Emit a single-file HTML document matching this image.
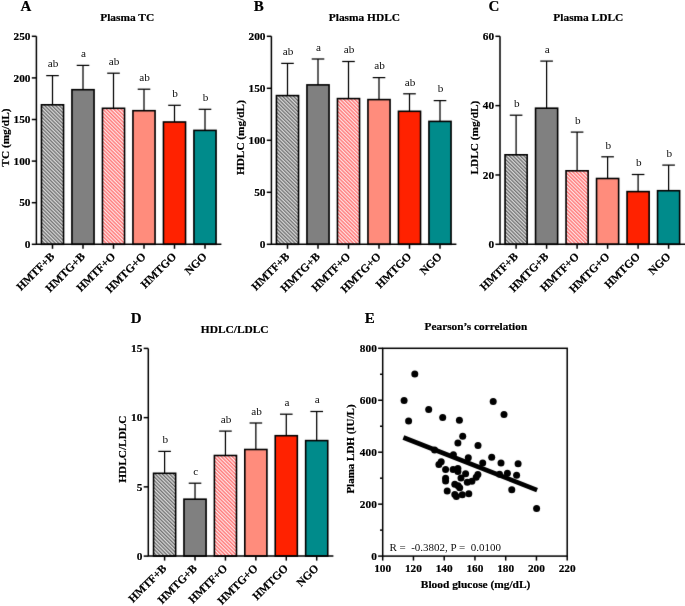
<!DOCTYPE html><html><head><meta charset="utf-8"><style>html,body{margin:0;padding:0;background:#fff;width:685px;height:606px;overflow:hidden}svg{display:block;will-change:transform}text{font-family:"Liberation Serif",serif}</style></head><body>
<svg width="685" height="606" viewBox="0 0 685 606">
<defs>
<filter id="bl" color-interpolation-filters="sRGB" x="0" y="0" width="685" height="606" filterUnits="userSpaceOnUse"><feConvolveMatrix order="3" kernelMatrix="0.0064 0.0672 0.0064 0.0672 0.7056 0.0672 0.0064 0.0672 0.0064" edgeMode="duplicate"/></filter>
<pattern id="hg" patternUnits="userSpaceOnUse" width="2.57" height="4" patternTransform="rotate(-45)">
<rect width="2.57" height="4" fill="#ececec"/><rect width="1.28" height="4" fill="#5c5c5c"/></pattern>
<pattern id="hr" patternUnits="userSpaceOnUse" width="2.57" height="4" patternTransform="rotate(-45)">
<rect width="2.57" height="4" fill="#fff"/><rect width="1.4" height="4" fill="#ff6464"/></pattern>
</defs><g filter="url(#bl)"><rect width="685" height="606" fill="#fff"/>
<line x1="52.50" y1="104.80" x2="52.50" y2="75.60" stroke="#000" stroke-width="1.25"/>
<line x1="46.20" y1="75.60" x2="58.80" y2="75.60" stroke="#000" stroke-width="1.25"/>
<rect x="41.45" y="104.80" width="22.10" height="139.50" fill="url(#hg)" stroke="#000" stroke-width="1.6"/>
<line x1="52.50" y1="244.30" x2="52.50" y2="248.80" stroke="#000" stroke-width="1.5"/>
<line x1="83.00" y1="89.70" x2="83.00" y2="65.40" stroke="#000" stroke-width="1.25"/>
<line x1="76.70" y1="65.40" x2="89.30" y2="65.40" stroke="#000" stroke-width="1.25"/>
<rect x="71.95" y="89.70" width="22.10" height="154.60" fill="#808080" stroke="#000" stroke-width="1.6"/>
<line x1="83.00" y1="244.30" x2="83.00" y2="248.80" stroke="#000" stroke-width="1.5"/>
<line x1="113.50" y1="108.30" x2="113.50" y2="73.20" stroke="#000" stroke-width="1.25"/>
<line x1="107.20" y1="73.20" x2="119.80" y2="73.20" stroke="#000" stroke-width="1.25"/>
<rect x="102.45" y="108.30" width="22.10" height="136.00" fill="url(#hr)" stroke="#000" stroke-width="1.6"/>
<line x1="113.50" y1="244.30" x2="113.50" y2="248.80" stroke="#000" stroke-width="1.5"/>
<line x1="144.00" y1="110.70" x2="144.00" y2="89.20" stroke="#000" stroke-width="1.25"/>
<line x1="137.70" y1="89.20" x2="150.30" y2="89.20" stroke="#000" stroke-width="1.25"/>
<rect x="132.95" y="110.70" width="22.10" height="133.60" fill="#FF8C7C" stroke="#000" stroke-width="1.6"/>
<line x1="144.00" y1="244.30" x2="144.00" y2="248.80" stroke="#000" stroke-width="1.5"/>
<line x1="174.50" y1="122.00" x2="174.50" y2="105.30" stroke="#000" stroke-width="1.25"/>
<line x1="168.20" y1="105.30" x2="180.80" y2="105.30" stroke="#000" stroke-width="1.25"/>
<rect x="163.45" y="122.00" width="22.10" height="122.30" fill="#FF2200" stroke="#000" stroke-width="1.6"/>
<line x1="174.50" y1="244.30" x2="174.50" y2="248.80" stroke="#000" stroke-width="1.5"/>
<line x1="205.00" y1="130.40" x2="205.00" y2="109.30" stroke="#000" stroke-width="1.25"/>
<line x1="198.70" y1="109.30" x2="211.30" y2="109.30" stroke="#000" stroke-width="1.25"/>
<rect x="193.95" y="130.40" width="22.10" height="113.90" fill="#008B8B" stroke="#000" stroke-width="1.6"/>
<line x1="205.00" y1="244.30" x2="205.00" y2="248.80" stroke="#000" stroke-width="1.5"/>
<path d="M36.40,36.30 V244.30 H221.40" fill="none" stroke="#000" stroke-width="1.5"/>
<line x1="31.80" y1="36.30" x2="36.40" y2="36.30" stroke="#000" stroke-width="1.5"/>
<line x1="31.80" y1="77.90" x2="36.40" y2="77.90" stroke="#000" stroke-width="1.5"/>
<line x1="31.80" y1="119.50" x2="36.40" y2="119.50" stroke="#000" stroke-width="1.5"/>
<line x1="31.80" y1="161.10" x2="36.40" y2="161.10" stroke="#000" stroke-width="1.5"/>
<line x1="31.80" y1="202.70" x2="36.40" y2="202.70" stroke="#000" stroke-width="1.5"/>
<line x1="31.80" y1="244.30" x2="36.40" y2="244.30" stroke="#000" stroke-width="1.5"/>
<line x1="287.50" y1="95.60" x2="287.50" y2="63.40" stroke="#000" stroke-width="1.25"/>
<line x1="281.20" y1="63.40" x2="293.80" y2="63.40" stroke="#000" stroke-width="1.25"/>
<rect x="276.45" y="95.60" width="22.10" height="148.70" fill="url(#hg)" stroke="#000" stroke-width="1.6"/>
<line x1="287.50" y1="244.30" x2="287.50" y2="248.80" stroke="#000" stroke-width="1.5"/>
<line x1="318.00" y1="84.90" x2="318.00" y2="59.00" stroke="#000" stroke-width="1.25"/>
<line x1="311.70" y1="59.00" x2="324.30" y2="59.00" stroke="#000" stroke-width="1.25"/>
<rect x="306.95" y="84.90" width="22.10" height="159.40" fill="#808080" stroke="#000" stroke-width="1.6"/>
<line x1="318.00" y1="244.30" x2="318.00" y2="248.80" stroke="#000" stroke-width="1.5"/>
<line x1="348.50" y1="98.60" x2="348.50" y2="61.50" stroke="#000" stroke-width="1.25"/>
<line x1="342.20" y1="61.50" x2="354.80" y2="61.50" stroke="#000" stroke-width="1.25"/>
<rect x="337.45" y="98.60" width="22.10" height="145.70" fill="url(#hr)" stroke="#000" stroke-width="1.6"/>
<line x1="348.50" y1="244.30" x2="348.50" y2="248.80" stroke="#000" stroke-width="1.5"/>
<line x1="379.00" y1="99.60" x2="379.00" y2="77.60" stroke="#000" stroke-width="1.25"/>
<line x1="372.70" y1="77.60" x2="385.30" y2="77.60" stroke="#000" stroke-width="1.25"/>
<rect x="367.95" y="99.60" width="22.10" height="144.70" fill="#FF8C7C" stroke="#000" stroke-width="1.6"/>
<line x1="379.00" y1="244.30" x2="379.00" y2="248.80" stroke="#000" stroke-width="1.5"/>
<line x1="409.50" y1="111.30" x2="409.50" y2="93.80" stroke="#000" stroke-width="1.25"/>
<line x1="403.20" y1="93.80" x2="415.80" y2="93.80" stroke="#000" stroke-width="1.25"/>
<rect x="398.45" y="111.30" width="22.10" height="133.00" fill="#FF2200" stroke="#000" stroke-width="1.6"/>
<line x1="409.50" y1="244.30" x2="409.50" y2="248.80" stroke="#000" stroke-width="1.5"/>
<line x1="440.00" y1="121.40" x2="440.00" y2="100.60" stroke="#000" stroke-width="1.25"/>
<line x1="433.70" y1="100.60" x2="446.30" y2="100.60" stroke="#000" stroke-width="1.25"/>
<rect x="428.95" y="121.40" width="22.10" height="122.90" fill="#008B8B" stroke="#000" stroke-width="1.6"/>
<line x1="440.00" y1="244.30" x2="440.00" y2="248.80" stroke="#000" stroke-width="1.5"/>
<path d="M271.40,36.30 V244.30 H456.40" fill="none" stroke="#000" stroke-width="1.5"/>
<line x1="266.80" y1="36.30" x2="271.40" y2="36.30" stroke="#000" stroke-width="1.5"/>
<line x1="266.80" y1="88.30" x2="271.40" y2="88.30" stroke="#000" stroke-width="1.5"/>
<line x1="266.80" y1="140.30" x2="271.40" y2="140.30" stroke="#000" stroke-width="1.5"/>
<line x1="266.80" y1="192.30" x2="271.40" y2="192.30" stroke="#000" stroke-width="1.5"/>
<line x1="266.80" y1="244.30" x2="271.40" y2="244.30" stroke="#000" stroke-width="1.5"/>
<line x1="516.10" y1="154.80" x2="516.10" y2="115.20" stroke="#000" stroke-width="1.25"/>
<line x1="509.80" y1="115.20" x2="522.40" y2="115.20" stroke="#000" stroke-width="1.25"/>
<rect x="505.05" y="154.80" width="22.10" height="89.50" fill="url(#hg)" stroke="#000" stroke-width="1.6"/>
<line x1="516.10" y1="244.30" x2="516.10" y2="248.80" stroke="#000" stroke-width="1.5"/>
<line x1="546.60" y1="108.20" x2="546.60" y2="61.10" stroke="#000" stroke-width="1.25"/>
<line x1="540.30" y1="61.10" x2="552.90" y2="61.10" stroke="#000" stroke-width="1.25"/>
<rect x="535.55" y="108.20" width="22.10" height="136.10" fill="#808080" stroke="#000" stroke-width="1.6"/>
<line x1="546.60" y1="244.30" x2="546.60" y2="248.80" stroke="#000" stroke-width="1.5"/>
<line x1="577.10" y1="170.80" x2="577.10" y2="132.10" stroke="#000" stroke-width="1.25"/>
<line x1="570.80" y1="132.10" x2="583.40" y2="132.10" stroke="#000" stroke-width="1.25"/>
<rect x="566.05" y="170.80" width="22.10" height="73.50" fill="url(#hr)" stroke="#000" stroke-width="1.6"/>
<line x1="577.10" y1="244.30" x2="577.10" y2="248.80" stroke="#000" stroke-width="1.5"/>
<line x1="607.60" y1="178.50" x2="607.60" y2="156.80" stroke="#000" stroke-width="1.25"/>
<line x1="601.30" y1="156.80" x2="613.90" y2="156.80" stroke="#000" stroke-width="1.25"/>
<rect x="596.55" y="178.50" width="22.10" height="65.80" fill="#FF8C7C" stroke="#000" stroke-width="1.6"/>
<line x1="607.60" y1="244.30" x2="607.60" y2="248.80" stroke="#000" stroke-width="1.5"/>
<line x1="638.10" y1="191.60" x2="638.10" y2="174.50" stroke="#000" stroke-width="1.25"/>
<line x1="631.80" y1="174.50" x2="644.40" y2="174.50" stroke="#000" stroke-width="1.25"/>
<rect x="627.05" y="191.60" width="22.10" height="52.70" fill="#FF2200" stroke="#000" stroke-width="1.6"/>
<line x1="638.10" y1="244.30" x2="638.10" y2="248.80" stroke="#000" stroke-width="1.5"/>
<line x1="668.60" y1="190.70" x2="668.60" y2="165.10" stroke="#000" stroke-width="1.25"/>
<line x1="662.30" y1="165.10" x2="674.90" y2="165.10" stroke="#000" stroke-width="1.25"/>
<rect x="657.55" y="190.70" width="22.10" height="53.60" fill="#008B8B" stroke="#000" stroke-width="1.6"/>
<line x1="668.60" y1="244.30" x2="668.60" y2="248.80" stroke="#000" stroke-width="1.5"/>
<path d="M500.00,36.30 V244.30 H685.00" fill="none" stroke="#000" stroke-width="1.5"/>
<line x1="495.40" y1="36.30" x2="500.00" y2="36.30" stroke="#000" stroke-width="1.5"/>
<line x1="495.40" y1="105.63" x2="500.00" y2="105.63" stroke="#000" stroke-width="1.5"/>
<line x1="495.40" y1="174.97" x2="500.00" y2="174.97" stroke="#000" stroke-width="1.5"/>
<line x1="495.40" y1="244.30" x2="500.00" y2="244.30" stroke="#000" stroke-width="1.5"/>
<line x1="164.60" y1="473.30" x2="164.60" y2="451.40" stroke="#000" stroke-width="1.25"/>
<line x1="158.30" y1="451.40" x2="170.90" y2="451.40" stroke="#000" stroke-width="1.25"/>
<rect x="153.55" y="473.30" width="22.10" height="82.80" fill="url(#hg)" stroke="#000" stroke-width="1.6"/>
<line x1="164.60" y1="556.10" x2="164.60" y2="560.60" stroke="#000" stroke-width="1.5"/>
<line x1="195.02" y1="499.20" x2="195.02" y2="483.20" stroke="#000" stroke-width="1.25"/>
<line x1="188.72" y1="483.20" x2="201.32" y2="483.20" stroke="#000" stroke-width="1.25"/>
<rect x="183.97" y="499.20" width="22.10" height="56.90" fill="#808080" stroke="#000" stroke-width="1.6"/>
<line x1="195.02" y1="556.10" x2="195.02" y2="560.60" stroke="#000" stroke-width="1.5"/>
<line x1="225.44" y1="455.50" x2="225.44" y2="431.10" stroke="#000" stroke-width="1.25"/>
<line x1="219.14" y1="431.10" x2="231.74" y2="431.10" stroke="#000" stroke-width="1.25"/>
<rect x="214.39" y="455.50" width="22.10" height="100.60" fill="url(#hr)" stroke="#000" stroke-width="1.6"/>
<line x1="225.44" y1="556.10" x2="225.44" y2="560.60" stroke="#000" stroke-width="1.5"/>
<line x1="255.86" y1="449.50" x2="255.86" y2="423.00" stroke="#000" stroke-width="1.25"/>
<line x1="249.56" y1="423.00" x2="262.16" y2="423.00" stroke="#000" stroke-width="1.25"/>
<rect x="244.81" y="449.50" width="22.10" height="106.60" fill="#FF8C7C" stroke="#000" stroke-width="1.6"/>
<line x1="255.86" y1="556.10" x2="255.86" y2="560.60" stroke="#000" stroke-width="1.5"/>
<line x1="286.28" y1="435.70" x2="286.28" y2="414.20" stroke="#000" stroke-width="1.25"/>
<line x1="279.98" y1="414.20" x2="292.58" y2="414.20" stroke="#000" stroke-width="1.25"/>
<rect x="275.23" y="435.70" width="22.10" height="120.40" fill="#FF2200" stroke="#000" stroke-width="1.6"/>
<line x1="286.28" y1="556.10" x2="286.28" y2="560.60" stroke="#000" stroke-width="1.5"/>
<line x1="316.70" y1="440.60" x2="316.70" y2="411.50" stroke="#000" stroke-width="1.25"/>
<line x1="310.40" y1="411.50" x2="323.00" y2="411.50" stroke="#000" stroke-width="1.25"/>
<rect x="305.65" y="440.60" width="22.10" height="115.50" fill="#008B8B" stroke="#000" stroke-width="1.6"/>
<line x1="316.70" y1="556.10" x2="316.70" y2="560.60" stroke="#000" stroke-width="1.5"/>
<path d="M148.30,348.40 V556.10 H333.40" fill="none" stroke="#000" stroke-width="1.5"/>
<line x1="143.70" y1="348.40" x2="148.30" y2="348.40" stroke="#000" stroke-width="1.5"/>
<line x1="143.70" y1="417.63" x2="148.30" y2="417.63" stroke="#000" stroke-width="1.5"/>
<line x1="143.70" y1="486.87" x2="148.30" y2="486.87" stroke="#000" stroke-width="1.5"/>
<line x1="143.70" y1="556.10" x2="148.30" y2="556.10" stroke="#000" stroke-width="1.5"/>
<path d="M403.4,437.5 L537.1,490.1" stroke="#000" stroke-width="4.7" fill="none"/>
<circle cx="414.8" cy="374.0" r="3.5" fill="#000"/>
<circle cx="404.1" cy="400.4" r="3.5" fill="#000"/>
<circle cx="428.7" cy="409.5" r="3.5" fill="#000"/>
<circle cx="442.7" cy="417.4" r="3.5" fill="#000"/>
<circle cx="408.6" cy="421.1" r="3.5" fill="#000"/>
<circle cx="459.4" cy="420.2" r="3.5" fill="#000"/>
<circle cx="462.7" cy="436.2" r="3.5" fill="#000"/>
<circle cx="493.2" cy="401.4" r="3.5" fill="#000"/>
<circle cx="504.0" cy="414.6" r="3.5" fill="#000"/>
<circle cx="457.9" cy="443.0" r="3.5" fill="#000"/>
<circle cx="434.6" cy="449.9" r="3.5" fill="#000"/>
<circle cx="453.4" cy="454.7" r="3.5" fill="#000"/>
<circle cx="468.3" cy="457.8" r="3.5" fill="#000"/>
<circle cx="441.2" cy="461.8" r="3.5" fill="#000"/>
<circle cx="438.9" cy="464.4" r="3.5" fill="#000"/>
<circle cx="445.6" cy="469.5" r="3.5" fill="#000"/>
<circle cx="453.1" cy="469.5" r="3.5" fill="#000"/>
<circle cx="457.9" cy="468.6" r="3.5" fill="#000"/>
<circle cx="457.9" cy="471.5" r="3.5" fill="#000"/>
<circle cx="465.6" cy="473.7" r="3.5" fill="#000"/>
<circle cx="445.6" cy="478.3" r="3.5" fill="#000"/>
<circle cx="445.6" cy="480.9" r="3.5" fill="#000"/>
<circle cx="461.0" cy="478.0" r="3.5" fill="#000"/>
<circle cx="467.3" cy="482.3" r="3.5" fill="#000"/>
<circle cx="454.8" cy="484.2" r="3.5" fill="#000"/>
<circle cx="458.1" cy="485.8" r="3.5" fill="#000"/>
<circle cx="459.7" cy="487.8" r="3.5" fill="#000"/>
<circle cx="447.2" cy="491.0" r="3.5" fill="#000"/>
<circle cx="454.8" cy="494.4" r="3.5" fill="#000"/>
<circle cx="456.4" cy="496.4" r="3.5" fill="#000"/>
<circle cx="462.3" cy="494.8" r="3.5" fill="#000"/>
<circle cx="468.8" cy="493.8" r="3.5" fill="#000"/>
<circle cx="478.0" cy="445.6" r="3.5" fill="#000"/>
<circle cx="491.7" cy="457.3" r="3.5" fill="#000"/>
<circle cx="482.7" cy="463.1" r="3.5" fill="#000"/>
<circle cx="501.0" cy="463.1" r="3.5" fill="#000"/>
<circle cx="477.9" cy="474.5" r="3.5" fill="#000"/>
<circle cx="476.2" cy="477.3" r="3.5" fill="#000"/>
<circle cx="471.9" cy="481.2" r="3.5" fill="#000"/>
<circle cx="518.1" cy="463.7" r="3.5" fill="#000"/>
<circle cx="499.5" cy="474.3" r="3.5" fill="#000"/>
<circle cx="507.4" cy="473.3" r="3.5" fill="#000"/>
<circle cx="516.6" cy="475.2" r="3.5" fill="#000"/>
<circle cx="511.8" cy="489.8" r="3.5" fill="#000"/>
<circle cx="536.6" cy="508.4" r="3.5" fill="#000"/>
<rect x="382.7" y="348.3" width="184.50" height="207.80" fill="none" stroke="#000" stroke-width="1.5"/>
<line x1="378.10" y1="556.10" x2="382.70" y2="556.10" stroke="#000" stroke-width="1.5"/>
<line x1="378.10" y1="504.15" x2="382.70" y2="504.15" stroke="#000" stroke-width="1.5"/>
<line x1="378.10" y1="452.20" x2="382.70" y2="452.20" stroke="#000" stroke-width="1.5"/>
<line x1="378.10" y1="400.25" x2="382.70" y2="400.25" stroke="#000" stroke-width="1.5"/>
<line x1="378.10" y1="348.30" x2="382.70" y2="348.30" stroke="#000" stroke-width="1.5"/>
<line x1="380.00" y1="530.12" x2="382.70" y2="530.12" stroke="#000" stroke-width="1.5"/>
<line x1="380.00" y1="478.18" x2="382.70" y2="478.18" stroke="#000" stroke-width="1.5"/>
<line x1="380.00" y1="426.23" x2="382.70" y2="426.23" stroke="#000" stroke-width="1.5"/>
<line x1="380.00" y1="374.28" x2="382.70" y2="374.28" stroke="#000" stroke-width="1.5"/>
<line x1="382.70" y1="556.10" x2="382.70" y2="560.60" stroke="#000" stroke-width="1.5"/>
<line x1="413.45" y1="556.10" x2="413.45" y2="560.60" stroke="#000" stroke-width="1.5"/>
<line x1="444.20" y1="556.10" x2="444.20" y2="560.60" stroke="#000" stroke-width="1.5"/>
<line x1="474.95" y1="556.10" x2="474.95" y2="560.60" stroke="#000" stroke-width="1.5"/>
<line x1="505.70" y1="556.10" x2="505.70" y2="560.60" stroke="#000" stroke-width="1.5"/>
<line x1="536.45" y1="556.10" x2="536.45" y2="560.60" stroke="#000" stroke-width="1.5"/>
<line x1="567.20" y1="556.10" x2="567.20" y2="560.60" stroke="#000" stroke-width="1.5"/>
</g>
<g stroke="#000" stroke-width="0.2" stroke-linejoin="round">
<text x="53.10" y="67.40" font-size="11.2" font-weight="normal" text-anchor="middle" fill="#111" stroke="none">ab</text>
<text transform="translate(55.10,257.20) rotate(-45)" font-size="11.4" font-weight="bold" text-anchor="end">HMTF+B</text>
<text x="83.60" y="57.20" font-size="11.2" font-weight="normal" text-anchor="middle" fill="#111" stroke="none">a</text>
<text transform="translate(85.60,257.20) rotate(-45)" font-size="11.4" font-weight="bold" text-anchor="end">HMTG+B</text>
<text x="114.10" y="65.00" font-size="11.2" font-weight="normal" text-anchor="middle" fill="#111" stroke="none">ab</text>
<text transform="translate(116.10,257.20) rotate(-45)" font-size="11.4" font-weight="bold" text-anchor="end">HMTF+O</text>
<text x="144.60" y="81.00" font-size="11.2" font-weight="normal" text-anchor="middle" fill="#111" stroke="none">ab</text>
<text transform="translate(146.60,257.20) rotate(-45)" font-size="11.4" font-weight="bold" text-anchor="end">HMTG+O</text>
<text x="175.10" y="97.10" font-size="11.2" font-weight="normal" text-anchor="middle" fill="#111" stroke="none">b</text>
<text transform="translate(177.10,257.20) rotate(-45)" font-size="11.4" font-weight="bold" text-anchor="end">HMTGO</text>
<text x="205.60" y="101.10" font-size="11.2" font-weight="normal" text-anchor="middle" fill="#111" stroke="none">b</text>
<text transform="translate(207.60,257.20) rotate(-45)" font-size="11.4" font-weight="bold" text-anchor="end">NGO</text>
<text x="30.50" y="40.00" font-size="11.3" font-weight="bold" text-anchor="end" >250</text>
<text x="30.50" y="81.60" font-size="11.3" font-weight="bold" text-anchor="end" >200</text>
<text x="30.50" y="123.20" font-size="11.3" font-weight="bold" text-anchor="end" >150</text>
<text x="30.50" y="164.80" font-size="11.3" font-weight="bold" text-anchor="end" >100</text>
<text x="30.50" y="206.40" font-size="11.3" font-weight="bold" text-anchor="end" >50</text>
<text x="30.50" y="248.00" font-size="11.3" font-weight="bold" text-anchor="end" >0</text>
<text transform="translate(8.60,137.60) rotate(-90)" font-size="11.3" font-weight="bold" text-anchor="middle">TC (mg/dL)</text>
<text x="127.20" y="20.70" font-size="11.4" font-weight="bold" text-anchor="middle" >Plasma TC</text>
<text x="20.60" y="11.00" font-size="15" font-weight="bold" text-anchor="start" >A</text>
<text x="288.10" y="55.20" font-size="11.2" font-weight="normal" text-anchor="middle" fill="#111" stroke="none">ab</text>
<text transform="translate(290.10,257.20) rotate(-45)" font-size="11.4" font-weight="bold" text-anchor="end">HMTF+B</text>
<text x="318.60" y="50.80" font-size="11.2" font-weight="normal" text-anchor="middle" fill="#111" stroke="none">a</text>
<text transform="translate(320.60,257.20) rotate(-45)" font-size="11.4" font-weight="bold" text-anchor="end">HMTG+B</text>
<text x="349.10" y="53.30" font-size="11.2" font-weight="normal" text-anchor="middle" fill="#111" stroke="none">ab</text>
<text transform="translate(351.10,257.20) rotate(-45)" font-size="11.4" font-weight="bold" text-anchor="end">HMTF+O</text>
<text x="379.60" y="69.40" font-size="11.2" font-weight="normal" text-anchor="middle" fill="#111" stroke="none">ab</text>
<text transform="translate(381.60,257.20) rotate(-45)" font-size="11.4" font-weight="bold" text-anchor="end">HMTG+O</text>
<text x="410.10" y="85.60" font-size="11.2" font-weight="normal" text-anchor="middle" fill="#111" stroke="none">ab</text>
<text transform="translate(412.10,257.20) rotate(-45)" font-size="11.4" font-weight="bold" text-anchor="end">HMTGO</text>
<text x="440.60" y="92.40" font-size="11.2" font-weight="normal" text-anchor="middle" fill="#111" stroke="none">b</text>
<text transform="translate(442.60,257.20) rotate(-45)" font-size="11.4" font-weight="bold" text-anchor="end">NGO</text>
<text x="265.50" y="40.00" font-size="11.3" font-weight="bold" text-anchor="end" >200</text>
<text x="265.50" y="92.00" font-size="11.3" font-weight="bold" text-anchor="end" >150</text>
<text x="265.50" y="144.00" font-size="11.3" font-weight="bold" text-anchor="end" >100</text>
<text x="265.50" y="196.00" font-size="11.3" font-weight="bold" text-anchor="end" >50</text>
<text x="265.50" y="248.00" font-size="11.3" font-weight="bold" text-anchor="end" >0</text>
<text transform="translate(243.80,137.60) rotate(-90)" font-size="11.3" font-weight="bold" text-anchor="middle">HDLC (mg/dL)</text>
<text x="364.40" y="20.70" font-size="11.4" font-weight="bold" text-anchor="middle" >Plasma HDLC</text>
<text x="253.70" y="10.50" font-size="15" font-weight="bold" text-anchor="start" >B</text>
<text x="516.70" y="107.00" font-size="11.2" font-weight="normal" text-anchor="middle" fill="#111" stroke="none">b</text>
<text transform="translate(518.70,257.20) rotate(-45)" font-size="11.4" font-weight="bold" text-anchor="end">HMTF+B</text>
<text x="547.20" y="52.90" font-size="11.2" font-weight="normal" text-anchor="middle" fill="#111" stroke="none">a</text>
<text transform="translate(549.20,257.20) rotate(-45)" font-size="11.4" font-weight="bold" text-anchor="end">HMTG+B</text>
<text x="577.70" y="123.90" font-size="11.2" font-weight="normal" text-anchor="middle" fill="#111" stroke="none">b</text>
<text transform="translate(579.70,257.20) rotate(-45)" font-size="11.4" font-weight="bold" text-anchor="end">HMTF+O</text>
<text x="608.20" y="148.60" font-size="11.2" font-weight="normal" text-anchor="middle" fill="#111" stroke="none">b</text>
<text transform="translate(610.20,257.20) rotate(-45)" font-size="11.4" font-weight="bold" text-anchor="end">HMTG+O</text>
<text x="638.70" y="166.30" font-size="11.2" font-weight="normal" text-anchor="middle" fill="#111" stroke="none">b</text>
<text transform="translate(640.70,257.20) rotate(-45)" font-size="11.4" font-weight="bold" text-anchor="end">HMTGO</text>
<text x="669.20" y="156.90" font-size="11.2" font-weight="normal" text-anchor="middle" fill="#111" stroke="none">b</text>
<text transform="translate(671.20,257.20) rotate(-45)" font-size="11.4" font-weight="bold" text-anchor="end">NGO</text>
<text x="494.10" y="40.00" font-size="11.3" font-weight="bold" text-anchor="end" >60</text>
<text x="494.10" y="109.33" font-size="11.3" font-weight="bold" text-anchor="end" >40</text>
<text x="494.10" y="178.67" font-size="11.3" font-weight="bold" text-anchor="end" >20</text>
<text x="494.10" y="248.00" font-size="11.3" font-weight="bold" text-anchor="end" >0</text>
<text transform="translate(478.00,137.60) rotate(-90)" font-size="11.3" font-weight="bold" text-anchor="middle">LDLC (mg/dL)</text>
<text x="588.30" y="20.70" font-size="11.4" font-weight="bold" text-anchor="middle" >Plasma LDLC</text>
<text x="488.50" y="10.50" font-size="15" font-weight="bold" text-anchor="start" >C</text>
<text x="165.20" y="443.20" font-size="11.2" font-weight="normal" text-anchor="middle" fill="#111" stroke="none">b</text>
<text transform="translate(167.20,569.00) rotate(-45)" font-size="11.4" font-weight="bold" text-anchor="end">HMTF+B</text>
<text x="195.62" y="475.00" font-size="11.2" font-weight="normal" text-anchor="middle" fill="#111" stroke="none">c</text>
<text transform="translate(197.62,569.00) rotate(-45)" font-size="11.4" font-weight="bold" text-anchor="end">HMTG+B</text>
<text x="226.04" y="422.90" font-size="11.2" font-weight="normal" text-anchor="middle" fill="#111" stroke="none">ab</text>
<text transform="translate(228.04,569.00) rotate(-45)" font-size="11.4" font-weight="bold" text-anchor="end">HMTF+O</text>
<text x="256.46" y="414.80" font-size="11.2" font-weight="normal" text-anchor="middle" fill="#111" stroke="none">ab</text>
<text transform="translate(258.46,569.00) rotate(-45)" font-size="11.4" font-weight="bold" text-anchor="end">HMTG+O</text>
<text x="286.88" y="406.00" font-size="11.2" font-weight="normal" text-anchor="middle" fill="#111" stroke="none">a</text>
<text transform="translate(288.88,569.00) rotate(-45)" font-size="11.4" font-weight="bold" text-anchor="end">HMTGO</text>
<text x="317.30" y="403.30" font-size="11.2" font-weight="normal" text-anchor="middle" fill="#111" stroke="none">a</text>
<text transform="translate(319.30,569.00) rotate(-45)" font-size="11.4" font-weight="bold" text-anchor="end">NGO</text>
<text x="142.40" y="352.10" font-size="11.3" font-weight="bold" text-anchor="end" >15</text>
<text x="142.40" y="421.33" font-size="11.3" font-weight="bold" text-anchor="end" >10</text>
<text x="142.40" y="490.57" font-size="11.3" font-weight="bold" text-anchor="end" >5</text>
<text x="142.40" y="559.80" font-size="11.3" font-weight="bold" text-anchor="end" >0</text>
<text transform="translate(126.20,449.10) rotate(-90)" font-size="11.3" font-weight="bold" text-anchor="middle">HDLC/LDLC</text>
<text x="234.70" y="332.60" font-size="11.4" font-weight="bold" text-anchor="middle" >HDLC/LDLC</text>
<text x="130.70" y="323.30" font-size="15" font-weight="bold" text-anchor="start" >D</text>
<text x="376.80" y="559.80" font-size="11.3" font-weight="bold" text-anchor="end" >0</text>
<text x="376.80" y="507.85" font-size="11.3" font-weight="bold" text-anchor="end" >200</text>
<text x="376.80" y="455.90" font-size="11.3" font-weight="bold" text-anchor="end" >400</text>
<text x="376.80" y="403.95" font-size="11.3" font-weight="bold" text-anchor="end" >600</text>
<text x="376.80" y="352.00" font-size="11.3" font-weight="bold" text-anchor="end" >800</text>
<text x="382.70" y="572.00" font-size="11.3" font-weight="bold" text-anchor="middle" >100</text>
<text x="413.45" y="572.00" font-size="11.3" font-weight="bold" text-anchor="middle" >120</text>
<text x="444.20" y="572.00" font-size="11.3" font-weight="bold" text-anchor="middle" >140</text>
<text x="474.95" y="572.00" font-size="11.3" font-weight="bold" text-anchor="middle" >160</text>
<text x="505.70" y="572.00" font-size="11.3" font-weight="bold" text-anchor="middle" >180</text>
<text x="536.45" y="572.00" font-size="11.3" font-weight="bold" text-anchor="middle" >200</text>
<text x="567.20" y="572.00" font-size="11.3" font-weight="bold" text-anchor="middle" >220</text>
<text x="389.4" y="550.8" font-size="11" fill="#111" stroke="none" xml:space="preserve">R =  -0.3802, P =  0.0100</text>
<text x="475.90" y="329.90" font-size="11.3" font-weight="bold" text-anchor="middle" >Pearson’s correlation</text>
<text x="475.60" y="588.40" font-size="11.4" font-weight="bold" text-anchor="middle" >Blood glucose (mg/dL)</text>
<text transform="translate(354.1,449.0) rotate(-90)" font-size="11" font-weight="bold" text-anchor="middle">Plama LDH (IU/L)</text>
<text x="364.70" y="323.30" font-size="15" font-weight="bold" text-anchor="start" >E</text>
</g></svg></body></html>
